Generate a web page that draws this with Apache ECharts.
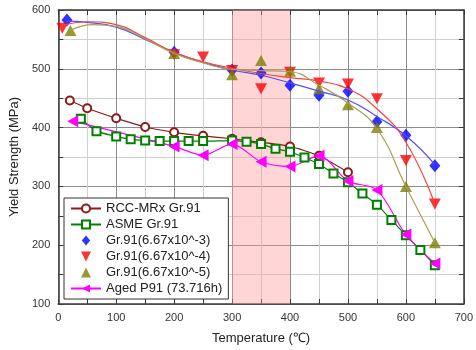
<!DOCTYPE html>
<html>
<head>
<meta charset="utf-8">
<script src="https://cdn.jsdelivr.net/npm/echarts@6/dist/echarts.min.js"></script>
<style>
html,body{margin:0;padding:0;background:#fff;}
#main{width:476px;height:350px;}
</style>
</head>
<body>
<div id="main"></div>
<script>
// measured points [temperature, yield strength]
var rccData = [[20,446],[50,433],[100,416],[150,401],[200,392],[250,386],[300,381],[350,375],[400,368],[450,352],[500,324]];
var asmeData = [[39,415],[66,394],[100,385],[125,380],[150,378],[175,377],[200,377],[225,377],[250,377],[300,378],[325,376],[350,372],[375,364],[400,359],[425,349],[450,338],[475,322],[500,307],[525,288],[550,269],[575,243],[600,217],[625,192],[650,166]];
var g3Data = [[15,583],[200,528],[300,498],[350,493],[400,472],[450,455],[500,462],[550,410],[600,387],[650,335]];
var g4Data = [[7,569],[200,524],[250,520],[300,497],[350,466],[400,494],[450,476],[500,474],[550,449],[600,344],[650,270]];
var g5Data = [[21,565],[200,526],[300,490],[350,514],[400,496],[450,466],[500,439],[550,400],[600,300],[650,204]];
var agedData = [[25,411],[200,368],[250,353],[300,372],[350,342],[400,334],[450,352],[500,309],[550,294],[600,218],[650,169]];

// fitted curves
var g3Fit = [[15,581],[50,579],[100,571],[150,550],[200,528],[250,511],[300,498],[350,489],[400,476],[450,462],[500,447],[550,419],[600,386],[650,337]];
var g4Fit = [[7,574],[50,580],[100,575],[150,553],[200,528],[250,512],[300,501],[350,492],[400,485],[450,479],[500,466],[550,432],[600,375],[650,270]];
var g5Fit = [[21,565],[60,575],[100,572],[150,551],[200,526],[250,510],[300,499],[350,497],[400,495],[450,472],[500,442],[550,398],[600,300],[650,204]];

var xTicks = [0,700,100];
var yTicks = [100,600,100];

var myChart = echarts.init(document.getElementById('main'));
var font = 'Liberation Sans, Arial, sans-serif';

function frameAxis(pos){
	return {
		type:'value', position:pos,
		min: pos=='top' ? xTicks[0] : yTicks[0],
		max: pos=='top' ? xTicks[1] : yTicks[1],
		interval: pos=='top' ? xTicks[2] : yTicks[2],
		axisLine:{show:true,onZero:false,lineStyle:{color:'#3a3a3a',width:1.5}},
		axisTick:{show:true,inside:true,length:5,lineStyle:{color:'#3a3a3a'}},
		minorTick:{show:true,splitNumber:2,length:5,lineStyle:{color:'#3a3a3a'}},
		axisLabel:{show:false},
		splitLine:{show:false}
	};
}

var option = {
	animation:false,
	textStyle:{fontFamily:font},
	grid:{left:57,right:8,top:10,bottom:44},
	legend:{
		orient:'vertical', left:64, top:198,
		backgroundColor:'#fff', borderColor:'#333', borderWidth:1,
		padding:[4,6,4,6], itemGap:3, itemWidth:30, itemHeight:10,
		textStyle:{fontFamily:font,fontSize:13,color:'#222'},
		data:[
			'RCC-MRx Gr.91',
			'ASME Gr.91',
			{name:'Gr.91(6.67x10^-3)',icon:'path://M0,-6L5,0L0,6L-5,0Z'},
			{name:'Gr.91(6.67x10^-4)',icon:'path://M-5,-5L5,-5L0,5Z'},
			{name:'Gr.91(6.67x10^-5)',icon:'path://M0,-5L5,5L-5,5Z'},
			'Aged P91 (73.716h)'
		]
	},
	xAxis:[{
		type:'value', min:xTicks[0], max:xTicks[1], interval:xTicks[2],
		name:'Temperature (\u2103)', nameLocation:'middle', nameGap:28,
		nameTextStyle:{fontFamily:font,fontSize:13,color:'#222'},
		axisLine:{onZero:false,lineStyle:{color:'#3a3a3a',width:1.5}},
		axisTick:{inside:true,length:5,lineStyle:{color:'#3a3a3a'}},
		minorTick:{show:true,splitNumber:2,length:5,lineStyle:{color:'#3a3a3a'}},
		axisLabel:{color:'#333',fontSize:11,margin:8},
		splitLine:{lineStyle:{color:'#8c8c8c'}},
		minorSplitLine:{show:true,lineStyle:{color:'#d0d0d0'}}
	}, frameAxis('top')],
	yAxis:[{
		type:'value', min:yTicks[0], max:yTicks[1], interval:yTicks[2],
		name:'Yield Strength (MPa)', nameLocation:'middle', nameGap:34,
		nameTextStyle:{fontFamily:font,fontSize:13,color:'#222'},
		axisLine:{show:true,lineStyle:{color:'#3a3a3a',width:1.5}},
		axisTick:{inside:true,length:5,lineStyle:{color:'#3a3a3a'}},
		minorTick:{show:true,splitNumber:2,length:5,lineStyle:{color:'#3a3a3a'}},
		axisLabel:{color:'#333',fontSize:11,margin:8},
		splitLine:{lineStyle:{color:'#8c8c8c'}},
		minorSplitLine:{show:true,lineStyle:{color:'#d0d0d0'}}
	}, frameAxis('right')],
	series:[
		{
			name:'band', type:'line', data:[], silent:true,
			markArea:{silent:true,itemStyle:{color:'rgba(255,150,150,0.4)'},data:[[{xAxis:300},{xAxis:400}]]}
		},
		{name:'g3fit',type:'line',smooth:true,showSymbol:false,data:g3Fit,lineStyle:{color:'#5050ff',width:1.2}},
		{name:'g4fit',type:'line',smooth:true,showSymbol:false,data:g4Fit,lineStyle:{color:'#ff4040',width:1.2}},
		{name:'g5fit',type:'line',smooth:true,showSymbol:false,data:g5Fit,lineStyle:{color:'#a8a050',width:1.2}},
		{
			name:'RCC-MRx Gr.91', type:'line', data:rccData, smooth:0.2,
			symbol:'emptyCircle', symbolSize:8,
			lineStyle:{color:'#8b1a1a',width:1.2}, itemStyle:{color:'#8b1a1a',borderWidth:1.2}
		},
		{
			name:'ASME Gr.91', type:'line', data:asmeData, smooth:0.2,
			symbol:'emptyRect', symbolSize:8,
			lineStyle:{color:'#008000',width:1.2}, itemStyle:{color:'#008000',borderWidth:1.2}
		},
		{
			name:'Gr.91(6.67x10^-3)', type:'scatter', data:g3Data,
			symbol:'diamond', symbolSize:[11,13], itemStyle:{color:'#0000ff'}
		},
		{
			name:'Gr.91(6.67x10^-4)', type:'scatter', data:g4Data,
			symbol:'triangle', symbolRotate:180, symbolSize:[12,11], itemStyle:{color:'#ff0000'}
		},
		{
			name:'Gr.91(6.67x10^-5)', type:'scatter', data:g5Data,
			symbol:'triangle', symbolSize:[12,11], itemStyle:{color:'#808000'}
		},
		{
			name:'Aged P91 (73.716h)', type:'line', data:agedData, smooth:0.3,
			symbol:'triangle', symbolRotate:90, symbolSize:[12,11],
			lineStyle:{color:'#ff00ff',width:1.2}, itemStyle:{color:'#ff00ff'}
		}
	]
};
myChart.setOption(option);
</script>
</body>
</html>
